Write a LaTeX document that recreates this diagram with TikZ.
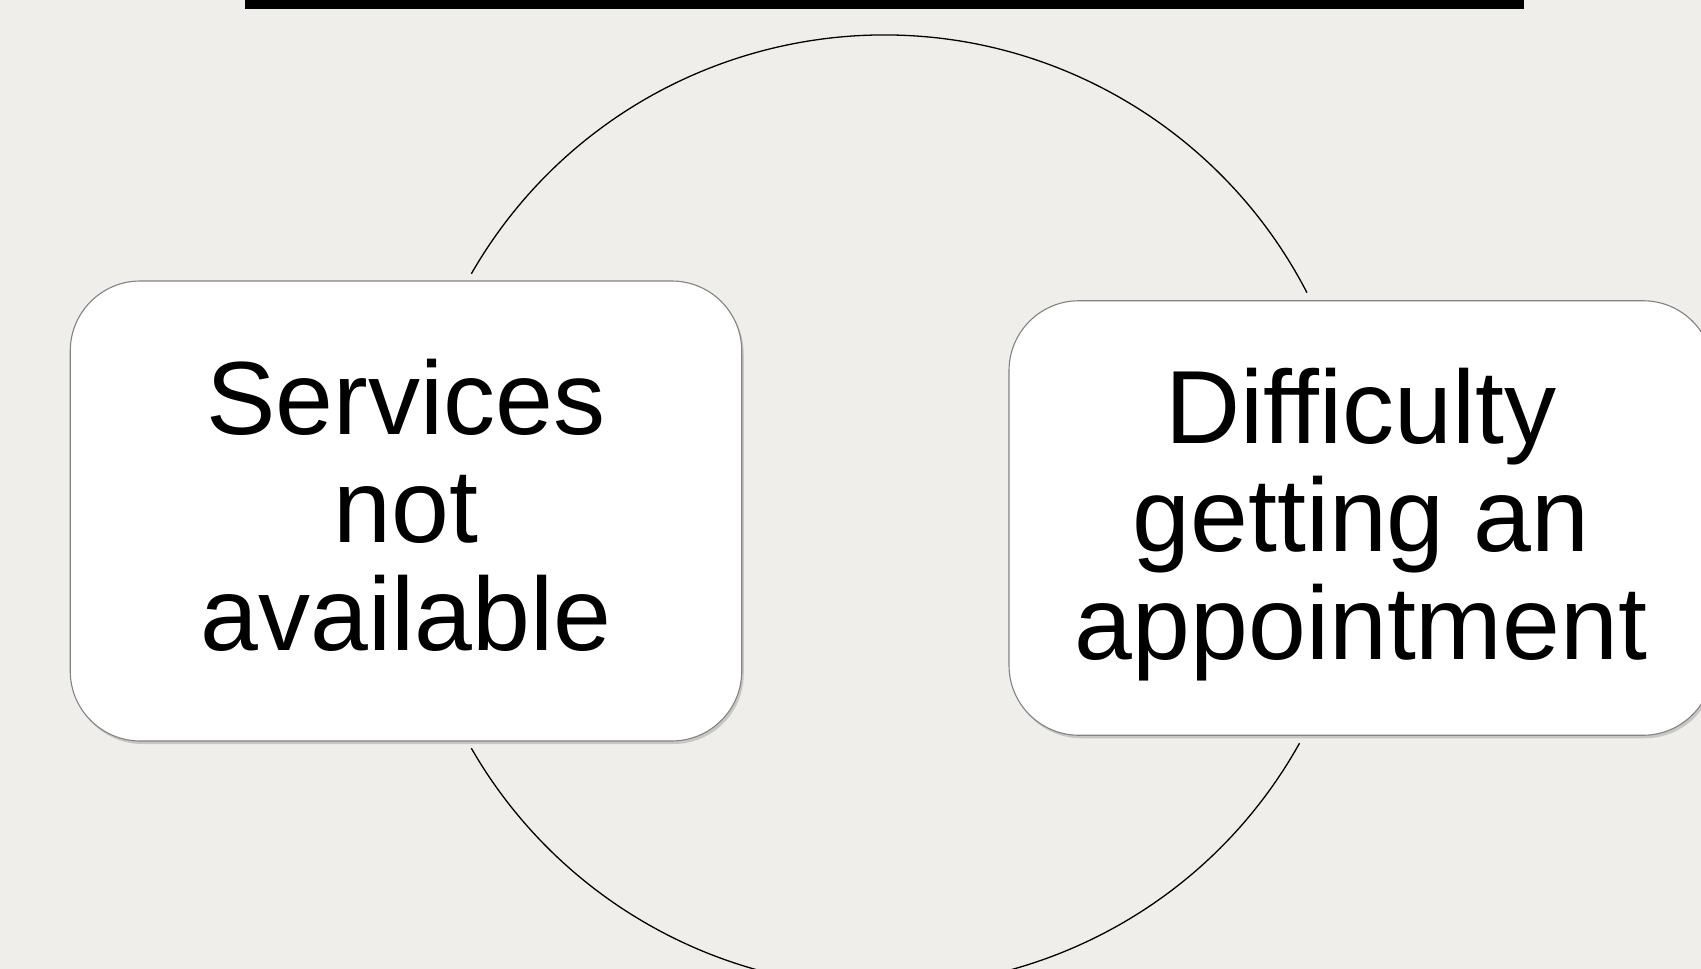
\documentclass[tikz,border=0pt]{standalone}
\usepackage{fontspec}
\setmainfont{Liberation Sans}
\usetikzlibrary{shadows}
\definecolor{paper}{RGB}{239,238,234}
\definecolor{edge}{RGB}{130,130,130}
\tikzset{
  cardbox/.style={draw=edge, line width=1.1pt, fill=white, rounded corners=70pt,
    inner sep=0pt,
    drop shadow={opacity=0.35, shadow xshift=2pt, shadow yshift=-3pt}},
  cardtext/.style={align=center, inner sep=0pt, font=\fontsize{104}{108}\selectfont},
  ringline/.style={draw=black, line width=1.3pt}
}
\begin{document}
\begin{tikzpicture}[x=1pt, y=-1pt]
  \useasboundingbox (0,0) rectangle (1701,969);
  \fill[paper] (0,0) rectangle (1701,969);
  \clip (0,0) rectangle (1701,969);
  % heading rule
  \fill[black] (244.7,0) rectangle (1524,9);
  % background ring, broken where the cards sit
  \coordinate (hub) at (884,511);
  \draw[ringline] (hub) ++(-150.1:476) arc[start angle=-150.1, end angle=-27.3, radius=476];
  \draw[ringline] (hub) ++(29.2:476) arc[start angle=29.2, end angle=150.1, radius=476];
  % left card
  \node[cardbox, minimum width=671.5pt, minimum height=460pt] (left) at (406,511) {};
  \node[cardtext] (lefttext) at (406,505.5) {Services\\not\\available};
  % right card
  \node[cardbox, minimum width=704pt, minimum height=434.5pt] (right) at (1361,518) {};
  \node[cardtext] (righttext) at (1361,525) {Difficulty\\getting an\\appointment};
\end{tikzpicture}
\end{document}
